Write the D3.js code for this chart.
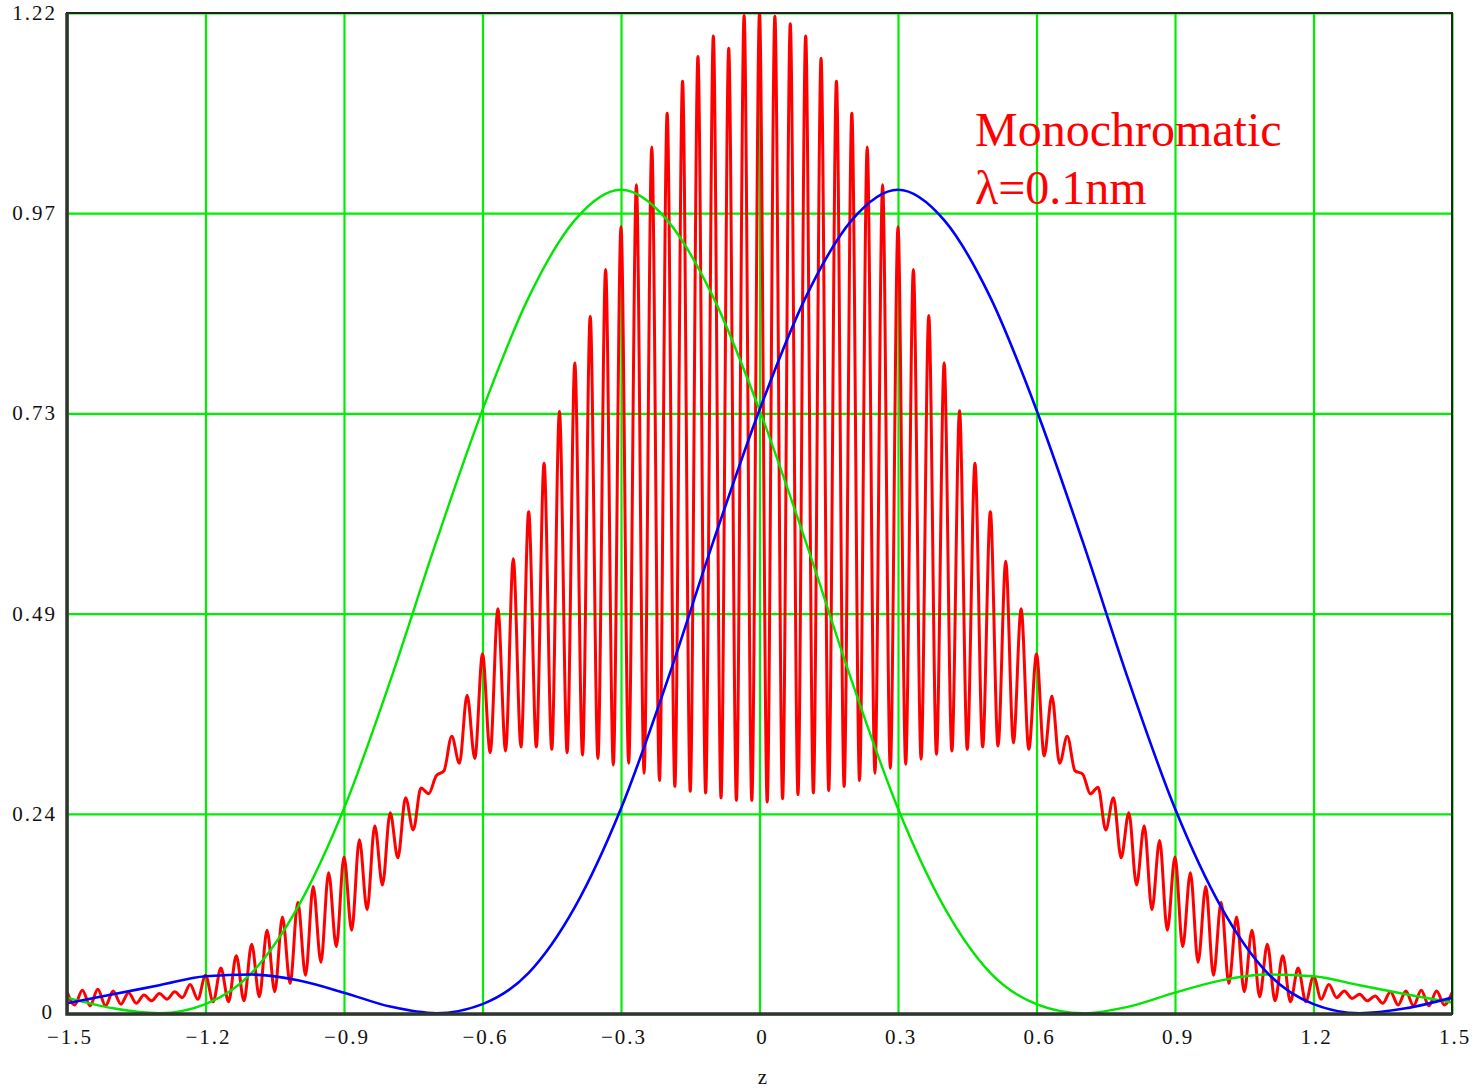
<!DOCTYPE html>
<html>
<head>
<meta charset="utf-8">
<script src="https://d3js.org/d3.v7.min.js"></script>
<style>
  body { margin: 0; background: #fff; }
  .tickText { font-family: "Liberation Serif", "Times New Roman", serif; font-size: 21px; letter-spacing: 2px; fill: #111; }
  .note { font-family: "Liberation Serif", "Times New Roman", serif; font-size: 48px; fill: #ff0000; }
</style>
</head>
<body>
<div id="chart"></div>
<script>
var svgWidth = 1483;
var svgHeight = 1088;

var margin = {
  top: 13,
  right: 31,
  bottom: 74,
  left: 67
};

var width = svgWidth - margin.left - margin.right;
var height = svgHeight - margin.top - margin.bottom;

// Data
// ==============================
var xTickValues = [-1.5, -1.2, -0.9, -0.6, -0.3, 0, 0.3, 0.6, 0.9, 1.2, 1.5];
var xTickLabels = ["\u22121.5", "\u22121.2", "\u22120.9", "\u22120.6", "\u22120.3", "0", "0.3", "0.6", "0.9", "1.2", "1.5"];
var yTickLabels = ["0", "0.24", "0.49", "0.73", "0.97", "1.22"];
var yMax = 1.218;

// smooth curves, sampled every 0.1 in z
var zSamples = [-1.5, -1.4, -1.3, -1.2, -1.1, -1.0, -0.9, -0.8, -0.7, -0.6, -0.5, -0.4, -0.3, -0.2, -0.1, 0,
  0.1, 0.2, 0.3, 0.4, 0.5, 0.6, 0.7, 0.8, 0.9, 1.0, 1.1, 1.2, 1.3, 1.4, 1.5];
var greenValues = [0.020, 0.007, 0.001, 0.012, 0.050, 0.130, 0.250, 0.405, 0.575, 0.735, 0.872, 0.966, 1.003, 0.966, 0.872, 0.735,
  0.575, 0.405, 0.250, 0.130, 0.050, 0.012, 0.001, 0.009, 0.026, 0.041, 0.048, 0.046, 0.035, 0.024, 0.014];
var blueValues = [0.013, 0.024, 0.035, 0.046, 0.048, 0.041, 0.026, 0.009, 0.001, 0.012, 0.050, 0.130, 0.250, 0.405, 0.575, 0.735,
  0.872, 0.966, 1.003, 0.966, 0.872, 0.735, 0.575, 0.405, 0.250, 0.130, 0.050, 0.012, 0.001, 0.007, 0.020];

// monochromatic fringes: one peak every 1/30 in z from -1.5 to 1.5, a trough between each pair
var fringeSpacing = 1 / 30;
var fringePeaks = [
  0.027, 0.029, 0.030, 0.028, 0.026, 0.023, 0.025, 0.027, 0.036, 0.047,
  0.056, 0.071, 0.085, 0.102, 0.118, 0.136, 0.155, 0.172, 0.191, 0.212,
  0.229, 0.245, 0.263, 0.275, 0.290, 0.338, 0.388, 0.438, 0.493, 0.554,
  0.611, 0.670, 0.733, 0.792, 0.849, 0.906, 0.958, 1.009, 1.055, 1.096,
  1.135, 1.165, 1.190, 1.175, 1.215,
  1.218,
  1.214, 1.205, 1.190, 1.163, 1.135, 1.096, 1.055, 1.009, 0.958, 0.906,
  0.850, 0.792, 0.734, 0.670, 0.611, 0.551, 0.493, 0.438, 0.387, 0.338,
  0.292, 0.276, 0.263, 0.245, 0.229, 0.211, 0.191, 0.172, 0.155, 0.136,
  0.118, 0.102, 0.085, 0.071, 0.056, 0.046, 0.036, 0.028, 0.024, 0.022,
  0.027, 0.028, 0.029, 0.028, 0.026
];
var fringeTroughs = [
  0.011, 0.010, 0.010, 0.012, 0.013, 0.016, 0.018, 0.020, 0.018, 0.015,
  0.015, 0.016, 0.021, 0.027, 0.037, 0.047, 0.063, 0.082, 0.102, 0.127,
  0.157, 0.190, 0.224, 0.268, 0.296, 0.305, 0.311, 0.318, 0.320, 0.325,
  0.325, 0.322, 0.318, 0.315, 0.311, 0.303, 0.305, 0.293, 0.284, 0.277,
  0.271, 0.269, 0.263, 0.260, 0.260,
  0.258, 0.262, 0.267, 0.269, 0.272, 0.277, 0.284, 0.293, 0.299, 0.304,
  0.310, 0.316, 0.320, 0.322, 0.325, 0.326, 0.330, 0.322, 0.314, 0.305,
  0.296, 0.268, 0.224, 0.190, 0.157, 0.127, 0.102, 0.082, 0.063, 0.047,
  0.037, 0.027, 0.021, 0.016, 0.015, 0.015, 0.018, 0.020, 0.019, 0.016,
  0.013, 0.011, 0.010, 0.010, 0.011
];

// SVG wrapper
var svg = d3.select("#chart")
  .append("svg")
  .attr("width", svgWidth)
  .attr("height", svgHeight);

svg.append("rect")
  .attr("width", svgWidth)
  .attr("height", svgHeight)
  .attr("fill", "#fff");

var chartGroup = svg.append("g")
  .attr("transform", `translate(${margin.left}, ${margin.top})`);

svg.append("defs").append("clipPath")
  .attr("id", "plotClip")
  .append("rect")
  .attr("width", width)
  .attr("height", height);

// Step 1: scales
// ==============================
var xLinearScale = d3.scaleLinear()
  .domain([-1.5, 1.5])
  .range([0, width]);

var yLinearScale = d3.scaleLinear()
  .domain([0, yMax])
  .range([height, 0]);

var yTickValues = yTickLabels.map((d, i) => i * yMax / (yTickLabels.length - 1));

// Step 2: grid lines
// ==============================
var bottomAxis = d3.axisBottom(xLinearScale)
  .tickValues(xTickValues)
  .tickSize(-height)
  .tickFormat("");

var leftAxis = d3.axisLeft(yLinearScale)
  .tickValues(yTickValues)
  .tickSize(-width)
  .tickFormat("");

var xGrid = chartGroup.append("g")
  .attr("transform", `translate(0, ${height})`)
  .call(bottomAxis);

var yGrid = chartGroup.append("g")
  .call(leftAxis);

[xGrid, yGrid].forEach(function(g) {
  g.select(".domain").remove();
  g.selectAll(".tick line")
    .attr("stroke", "#00ee00")
    .attr("stroke-width", 2.2);
});

// Step 3: curves
// ==============================
var plotGroup = chartGroup.append("g")
  .attr("clip-path", "url(#plotClip)");

var fringeIndex = d3.scaleLinear()
  .domain([0, fringePeaks.length - 1])
  .range([-1.5, -1.5 + (fringePeaks.length - 1) * fringeSpacing]);

var redPoints = [];
fringePeaks.forEach(function(v, i) {
  redPoints.push({ z: fringeIndex(i), v: v });
  if (i < fringeTroughs.length) {
    redPoints.push({ z: fringeIndex(i + 0.5), v: fringeTroughs[i] });
  }
});

var line = d3.line()
  .x(d => xLinearScale(d.z))
  .y(d => yLinearScale(d.v))
  .curve(d3.curveMonotoneX);

plotGroup.append("path")
  .datum(redPoints)
  .attr("d", line)
  .attr("fill", "none")
  .attr("stroke", "#ff0000")
  .attr("stroke-width", 3)
  .attr("stroke-linejoin", "round");

plotGroup.append("path")
  .datum(zSamples.map((z, i) => ({ z: z, v: greenValues[i] })))
  .attr("d", line)
  .attr("fill", "none")
  .attr("stroke", "#00e600")
  .attr("stroke-width", 2.4);

plotGroup.append("path")
  .datum(zSamples.map((z, i) => ({ z: z, v: blueValues[i] })))
  .attr("d", line)
  .attr("fill", "none")
  .attr("stroke", "#0000ff")
  .attr("stroke-width", 2.6);

// Step 4: frame
// ==============================
chartGroup.append("rect")
  .attr("width", width)
  .attr("height", height)
  .attr("fill", "none")
  .attr("stroke", "#222")
  .attr("stroke-width", 2);

chartGroup.append("path")
  .attr("d", `M0,0V${height}H${width}`)
  .attr("fill", "none")
  .attr("stroke", "#333")
  .attr("stroke-width", 3.5);

// Step 5: tick labels
// ==============================
chartGroup.selectAll(".yLabel")
  .data(yTickValues)
  .enter()
  .append("text")
  .attr("class", "tickText")
  .attr("x", (d, i) => i === 0 ? -13 : -10)
  .attr("y", (d, i) => yLinearScale(d) + (i === 0 ? 5 : 7))
  .attr("text-anchor", "end")
  .text((d, i) => yTickLabels[i]);

chartGroup.selectAll(".xLabel")
  .data(xTickValues)
  .enter()
  .append("text")
  .attr("class", "tickText")
  .attr("x", d => xLinearScale(d) + 3)
  .attr("y", height + 30)
  .attr("text-anchor", "middle")
  .text((d, i) => xTickLabels[i]);

chartGroup.append("text")
  .attr("class", "tickText")
  .attr("x", xLinearScale(0) + 4)
  .attr("y", height + 70)
  .attr("text-anchor", "middle")
  .text("z");

// Step 6: annotation
// ==============================
chartGroup.append("text")
  .attr("class", "note")
  .attr("x", 908)
  .attr("y", 133)
  .text("Monochromatic");

chartGroup.append("text")
  .attr("class", "note")
  .attr("x", 908)
  .attr("y", 191)
  .text("\u03bb=0.1nm");
</script>
</body>
</html>
